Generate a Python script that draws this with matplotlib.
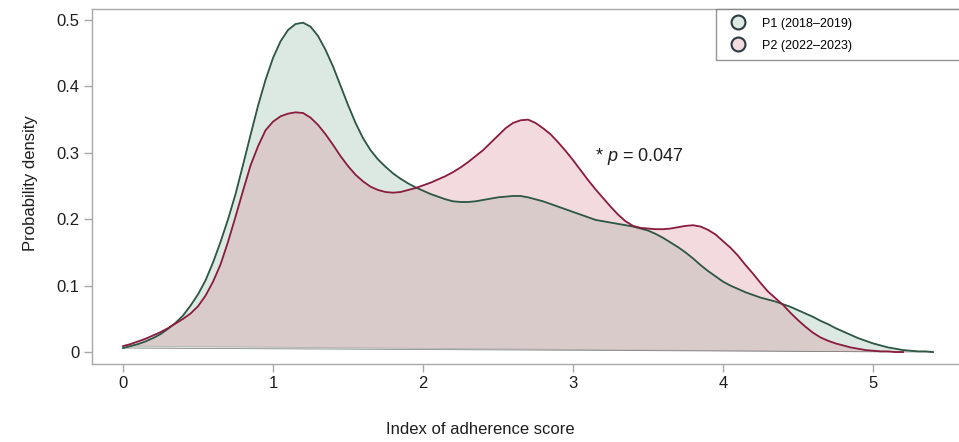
import matplotlib
matplotlib.use('Agg')
import matplotlib.pyplot as plt
from matplotlib.lines import Line2D

plt.rcParams['font.family'] = ['Liberation Sans', 'DejaVu Sans']
plt.rcParams['mathtext.fontset'] = 'custom'
plt.rcParams['mathtext.it'] = 'Liberation Sans:italic'
plt.rcParams['mathtext.rm'] = 'Liberation Sans'

# density curves, one value every 0.05 from x = 0
y_p1 = [0.006, 0.009, 0.012, 0.016, 0.021, 0.027, 0.035, 0.044, 0.055, 0.070,
        0.087, 0.108, 0.135, 0.166, 0.200, 0.238, 0.282, 0.327, 0.371, 0.410,
        0.443, 0.468, 0.485, 0.494, 0.496, 0.490, 0.476, 0.455, 0.430, 0.401,
        0.372, 0.345, 0.322, 0.304, 0.290, 0.279, 0.269, 0.261, 0.254, 0.248,
        0.243, 0.238, 0.234, 0.230, 0.227, 0.226, 0.226, 0.227, 0.229, 0.231,
        0.233, 0.234, 0.235, 0.235, 0.233, 0.230, 0.227, 0.223, 0.219, 0.215,
        0.211, 0.207, 0.203, 0.199, 0.197, 0.195, 0.193, 0.191, 0.189, 0.186,
        0.183, 0.178, 0.172, 0.165, 0.158, 0.150, 0.141, 0.131, 0.122, 0.114,
        0.106, 0.100, 0.095, 0.090, 0.086, 0.082, 0.079, 0.076, 0.072, 0.068,
        0.063, 0.058, 0.053, 0.047, 0.042, 0.036, 0.031, 0.026, 0.021, 0.017,
        0.013, 0.010, 0.007, 0.005, 0.003, 0.002, 0.001, 0.001, 0.000]

y_p2 = [0.009, 0.012, 0.016, 0.020, 0.025, 0.030, 0.036, 0.043, 0.050, 0.058,
        0.069, 0.085, 0.106, 0.132, 0.166, 0.204, 0.243, 0.281, 0.310, 0.334,
        0.347, 0.355, 0.359, 0.361, 0.360, 0.353, 0.342, 0.328, 0.312, 0.295,
        0.280, 0.267, 0.257, 0.249, 0.244, 0.241, 0.240, 0.241, 0.244, 0.247,
        0.251, 0.255, 0.260, 0.265, 0.271, 0.278, 0.286, 0.295, 0.304, 0.315,
        0.326, 0.337, 0.345, 0.349, 0.350, 0.345, 0.337, 0.328, 0.316, 0.303,
        0.289, 0.274, 0.259, 0.245, 0.232, 0.219, 0.207, 0.197, 0.190, 0.187,
        0.186, 0.185, 0.185, 0.186, 0.188, 0.190, 0.191, 0.189, 0.184, 0.177,
        0.167, 0.157, 0.145, 0.131, 0.118, 0.104, 0.091, 0.081, 0.071, 0.059,
        0.048, 0.038, 0.029, 0.022, 0.017, 0.013, 0.010, 0.007, 0.005, 0.003,
        0.002, 0.001, 0.001, 0.000, 0.000]

x_p1 = [i * 0.05 for i in range(len(y_p1))]
x_p2 = [i * 0.05 for i in range(len(y_p2))]

labels = ['P1 (2018\u20132019)', 'P2 (2022\u20132023)']
xticks = [0, 1, 2, 3, 4, 5]
yticks = [0, 0.1, 0.2, 0.3, 0.4, 0.5]
ytick_labels = ['0', '0.1', '0.2', '0.3', '0.4', '0.5']

green_fill = '#dce9e2'
green_line = '#2f5846'
pink_fill = '#d78798'
red_line = '#8a1c3e'

fig = plt.figure(figsize=(9.59, 4.42), dpi=100)
ax = fig.add_axes([92 / 959, 78 / 442, 1 - 92 / 959, 355 / 442])

ax.fill(x_p1, y_p1, color=green_fill, edgecolor='#8a8a8a', linewidth=0.6, zorder=1)
ax.fill(x_p2, y_p2, facecolor=pink_fill, alpha=0.3, edgecolor='#555555', linewidth=0.6, zorder=2)
ax.plot(x_p1, y_p1, color=green_line, lw=1.3, zorder=3)
ax.plot(x_p2, y_p2, color=red_line, lw=1.3, zorder=4)

ax.set_xlim(-0.207, 5.573)
ax.set_ylim(-0.018, 0.5166)
ax.set_xticks(xticks)
ax.set_xticklabels([str(t) for t in xticks])
ax.set_yticks(yticks)
ax.set_yticklabels(ytick_labels)

for s in ['top', 'left', 'bottom']:
    ax.spines[s].set_color('#a8a8a8')
    ax.spines[s].set_linewidth(1.0)
ax.spines['right'].set_visible(False)
ax.tick_params(axis='both', colors='#a8a8a8', length=6, width=1.0, labelsize=12,
               labelcolor='#1e1e1e', pad=3)

fig.text(480 / 959, 1 - 430 / 442, 'Index of adherence score', ha='center', va='center',
         fontsize=12, color='#1e1e1e')
fig.text(30 / 959, 1 - 183 / 442, 'Probability density', ha='center', va='center',
         rotation=90, fontsize=12, color='#1e1e1e')

ax.text(3.147, 0.294, '* $p$ = 0.047', fontsize=13, color='#1e1e1e', va='center')

handles = [Line2D([], [], ls='none', marker='o', markersize=10, markerfacecolor=green_fill,
                  markeredgecolor='#2b3a42', markeredgewidth=1.5),
           Line2D([], [], ls='none', marker='o', markersize=10, markerfacecolor='#f3dbe0',
                  markeredgecolor='#2b3a42', markeredgewidth=1.5)]
leg = ax.legend(handles, labels, loc='upper left', bbox_to_anchor=(0.7197, 0.856, 0.35, 0.144),
                mode='expand', borderaxespad=0, fontsize=9, frameon=True, fancybox=False,
                edgecolor='#7a7a7a', handlelength=2.2, handletextpad=0.8, borderpad=0.7,
                labelspacing=0.8)
leg.get_frame().set_linewidth(1.0)

fig.savefig('out.png', dpi=100)
